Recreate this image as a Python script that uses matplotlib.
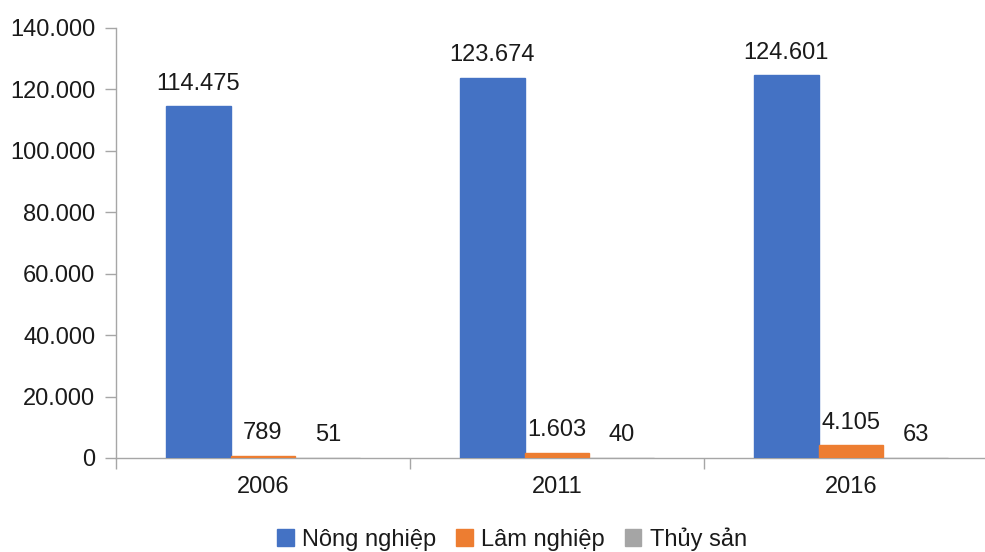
import numpy as np
import matplotlib
matplotlib.use('Agg')
from matplotlib import pyplot as plt
from matplotlib.ticker import FuncFormatter, FixedLocator

plt.rcParams['font.family'] = ['Liberation Sans', 'DejaVu Sans']

# số liệu theo năm
years = ['2006', '2011', '2016']
nong_nghiep = [114475, 123674, 124601]
lam_nghiep = [789, 1603, 4105]
thuy_san = [51, 40, 63]

series_names = ['Nông nghiệp', 'Lâm nghiệp', 'Thủy sản']
colors = ['#4472C4', '#ED7D31', '#A5A5A5']
FS = 17


def dot_format(v, pos=None):
    """định dạng số với dấu chấm phân cách hàng nghìn"""
    return '{:,.0f}'.format(v).replace(',', '.')


W, H = 985, 552
fig = plt.figure(figsize=(W / 100, H / 100), dpi=100)
ax = fig.add_axes([116 / W, 1 - 458 / H, (998 - 116) / W, (458 - 28) / H])

x = np.arange(len(years))
bw = 0.221
for k, (vals, name, c) in enumerate(zip([nong_nghiep, lam_nghiep, thuy_san], series_names, colors)):
    pos = x + (k - 1) * bw
    ax.bar(pos, vals, width=bw, color=c, edgecolor=c, linewidth=1.0, label=name, zorder=3)
    for px, v in zip(pos, vals):
        ax.annotate(dot_format(v), (px, v), xytext=(0, 12), textcoords='offset points',
                    ha='center', va='baseline', fontsize=FS, color='#1a1a1a')

ax.set_xlim(-0.5, 2.5)
ax.set_ylim(0, 140000)
ax.yaxis.set_major_locator(FixedLocator(np.arange(0, 140001, 20000)))
ax.yaxis.set_major_formatter(FuncFormatter(dot_format))

# vạch chia ở ranh giới giữa các năm, nhãn ở giữa
ax.set_xticks(np.arange(-0.5, 3.0, 1.0))
ax.set_xticklabels([])
ax.set_xticks(x, minor=True)
ax.set_xticklabels(years, minor=True)
ax.tick_params(axis='x', which='minor', length=0, pad=13, labelsize=FS, labelcolor='#1a1a1a')
ax.tick_params(axis='x', which='major', length=8, width=1, color='#A6A6A6', direction='out')
ax.tick_params(axis='y', length=8, width=1, color='#A6A6A6', direction='out', pad=7,
               labelsize=FS, labelcolor='#1a1a1a')

for s in ['top', 'right']:
    ax.spines[s].set_visible(False)
for s in ['left', 'bottom']:
    ax.spines[s].set_color('#A6A6A6')
    ax.spines[s].set_linewidth(1)

fig.legend(loc='center', bbox_to_anchor=(512 / W, 1 - 539 / H), ncol=3, frameon=False,
           fontsize=FS, handlelength=0.7, handleheight=0.7, handletextpad=0.35,
           columnspacing=0.85, labelcolor='#1a1a1a')

fig.savefig('out.png', dpi=100, facecolor='white')
